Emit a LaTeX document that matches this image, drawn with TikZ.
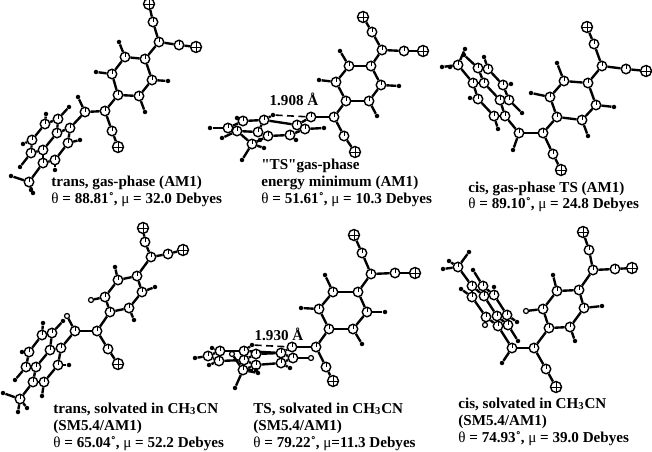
\documentclass[tikz,border=0pt]{standalone}
\usepackage{fontspec}
\setmainfont{Liberation Serif}
\usetikzlibrary{backgrounds}

\tikzset{
	natom/.style={draw, circle, fill=white, line width=0.8pt, inner sep=0pt, minimum size=0.22cm,
		path picture={\draw[line width=0.35pt] (path picture bounding box.west) -- (path picture bounding box.east)
			(path picture bounding box.north) -- (path picture bounding box.south);}},
	catom/.style={draw, circle, fill=white, line width=0.8pt, inner sep=0pt, minimum size=0.19cm,
		path picture={\draw[line width=0.45pt] (path picture bounding box.center) -- (path picture bounding box.east)
			(path picture bounding box.north) -- (path picture bounding box.south);
			\fill (path picture bounding box.center) rectangle (path picture bounding box.south east);}},
	hatom/.style={circle, fill=black, inner sep=0pt, minimum size=0.09cm},
	oatom/.style={draw, circle, fill=white, line width=0.7pt, inner sep=0pt, minimum size=0.1cm},
	bond/.style={line width=1.35pt},
	hbond/.style={line width=0.9pt, dash pattern=on 4pt off 2.5pt},
	caption/.style={anchor=base west, inner sep=0pt, font=\bfseries\fontsize{8.6}{10}\selectfont},
	dist/.style={anchor=base, inner sep=0pt, font=\bfseries\fontsize{8.6}{10}\selectfont}
}

\newcommand{\thetamu}[2]{{\mdseries θ} = #1˚, {\mdseries μ}#2}
\newcommand{\molatoms}[4]{
	\foreach \n/\x/\y in {#2} \node[natom] (#1\n) at (\x,\y) {};
	\foreach \n/\x/\y in {#3} \node[catom] (#1\n) at (\x,\y) {};
	\foreach \n/\x/\y in {#4} \node[hatom] (#1\n) at (\x,\y) {};
}
\def\corebonds{n1/c1,c1/c0,c0/c2,c2/n2,c0/r1,r1/r2,r2/r3,r3/r4,r4/r5,r5/r6,r6/r1,r2/h2,r3/h3,r5/h5,r6/h6,r4/v,v/w,v/c3,c3/n3,a/w}
\def\flatbonds{a/b,b/c,c/d,d/e,e/f,f/a,f/g,g/h,h/i,i/j,j/e,d/m,w/hw,b/hb,c/hc,g/hg,h/hh,i/hi,j/hj,m/m1,m/m2,m/m3}

\begin{document}
\begin{tikzpicture}[x=0.02cm,y=-0.02cm]
	\useasboundingbox (0,0) rectangle (652,452);

	% trans, gas-phase
	\molatoms{A}{n1/149/4,n2/196/47,n3/118/147}
	{c1/153/22,c0/159/42,c2/179/45,r1/145/59,r2/125/57,r3/112/74,r4/118/95,r5/139/96,r6/152/80,v/105/111,w/85/112,c3/112/131,
	a/70/128,b/68/143,c/55/160,d/43/163,e/43/150,f/57/133,g/58/119,h/45/124,i/32/140,j/31/153,m/29/182}
	{h2/119/42,h3/96/72,h5/145/112,h6/168/81,hw/78/97,hb/80/140,hc/55/170,hg/69/107,hh/46/114,hi/23/144,hj/20/167,m1/11/176,m2/33/193,m3/31/190}

	% "TS" gas-phase
	\molatoms{B}{n1/363/17,n2/423/51,n3/355/152}
	{c1/372/32,c0/382/50,c2/404/51,r1/371/66,r2/349/66,r3/336/82,r4/346/101,r5/369/101,r6/381/85,v/334/117,w/311/117,c3/344/136,
	a/297/125,b/305/129,c/290/135,d/268/136,e/258/132,f/264/120,g/243/121,h/228/128,i/237/131,m/252/144}
	{h2/340/51,h3/319/80,h5/377/116,h6/399/86,hb/324/128,hc/296/140,hf/273/115,hg/237/118,hh/210/128,hi/222/138,m1/242/160,m2/264/148,m3/260/140}

	% cis, gas-phase TS
	\molatoms{C}{n1/587/27,n2/646/71,n3/561/170}
	{c1/594/44,c0/602/66,c2/626/69,r1/588/83,r2/564/81,r3/550/97,r4/557/117,r5/582/120,r6/596/105,v/543/133,w/519/133,c3/553/154,
	a/505/116,b/494/116,c/478/99,d/473/83,e/484/83,f/500/100,g/509/100,h/503/85,i/488/69,j/478/68,m/458/65}
	{h2/557/63,h3/531/93,h5/588/136,h6/614/107,hw/513/150,hb/498/129,hc/470/98,hg/522/113,hh/511/84,hi/484/57,hj/464/55,m1/442/67,m2/465/49,m3/450/67}

	% trans, solvated
	\molatoms{D}{n1/143/228,n2/183/250,n3/118/364}
	{c1/145/242,c0/151/257,c2/168/254,r1/137/276,r2/118/280,r3/105/297,r4/110/312,r5/129/308,r6/142/292,v/97/331,w/75/331,c3/108/349,
	a/61/348,b/58/365,c/44/382,d/33/382,e/36/367,f/50/350,g/52/333,h/42/335,i/29/352,j/26/367,m/20/399}
	{h2/115/267,h5/134/320,h6/155/287,hb/69/365,hc/42/396,hg/63/321,hh/43/323,hi/22/352,hj/15/380,m1/3/393,m2/27/408,m3/18/412}
	\node[oatom] (Dh3) at (91,300) {};
	\node[oatom] (Dhw) at (67,316) {};

	% TS, solvated
	\molatoms{E}{n1/354/235,n2/415/273,n3/333/381}
	{c1/362/253,c0/371/274,c2/395/273,r1/358/292,r2/333/292,r3/319/309,r4/329/329,r5/353/329,r6/367/312,v/316/347,w/292/347,c3/326/367,
	a/281/353,b/293/358,c/281/363,d/256/365,x/256/354,e/244/360,f/244/351,g/220/351,h/208/356,i/219/361,m/243/370}
	{h2/325/275,h3/301/308,h5/362/344,h6/385/312,hc/290/368,hf/252/345,hg/212/348,hh/195/358,hi/209/365,m1/235/388,m2/258/373,m3/256/370}
	\node[oatom] (Ehb) at (311,358) {};
	\node[oatom] (Ehx) at (232,354) {};

	% cis, solvated
	\molatoms{F}{n1/583/232,n2/632/268,n3/556/387}
	{c1/589/250,c0/593/270,c2/615/269,r1/579/290,r2/557/291,r3/543/309,r4/549/328,r5/570/327,r6/584/308,v/534/348,w/512/348,c3/546/369,
	a/498/326,b/486/317,c/472/297,d/472/286,e/484/296,f/497/316,g/508/325,h/507/315,i/494/295,j/483/286,m/458/267}
	{h2/553/275,h5/575/341,h6/602/306,hw/502/363,hc/461/289,hg/518/341,hh/517/322,hi/494/287,hj/473/270,m1/443/269,m2/469/252,m3/449/261}
	\node[oatom] (Fh3) at (526,311) {};
	\node[oatom] (Fhb) at (485,325) {};

	\begin{scope}[on background layer]
		\foreach \m in {A,B,C,D,E,F}
			\foreach \p/\q in \corebonds \draw[bond] (\m\p) -- (\m\q);
		\foreach \m in {A,C,D,F}
			\foreach \p/\q in \flatbonds \draw[bond] (\m\p) -- (\m\q);
		\foreach \p/\q in {a/b,b/c,c/d,d/e,e/f,f/a,f/g,g/h,h/i,i/e,i/m,m/d,b/hb,c/hc,f/hf,g/hg,h/hh,i/hi,m/m1,m/m2,m/m3}
			\draw[bond] (B\p) -- (B\q);
		\foreach \p/\q in {a/b,b/c,c/d,d/e,e/f,f/a,x/a,x/e,f/g,g/h,h/i,i/e,m/d,m/hx,b/hb,c/hc,f/hf,g/hg,h/hh,i/hi,m/m1,m/m2,m/m3}
			\draw[bond] (E\p) -- (E\q);
	\end{scope}
	\draw[hbond] (Bhf) -- (Bw);
	\draw[hbond] (Ehf) -- (Ew);

	\node[dist] (dist1) at (294,106) {1.908 Å};
	\node[dist] (dist2) at (279,340) {1.930 Å};

	\node[caption] (cap1a) at (51,187) {trans, gas-phase (AM1)};
	\node[caption] (cap1b) at (51,204) {\thetamu{88.81}{ = 32.0 Debyes}};
	\node[caption] (cap2a) at (261,170) {\textquotedbl TS\textquotedbl gas-phase};
	\node[caption] (cap2b) at (261,187) {energy minimum (AM1)};
	\node[caption] (cap2c) at (261,204) {\thetamu{51.61}{ = 10.3 Debyes}};
	\node[caption] (cap3a) at (468,193) {cis, gas-phase TS (AM1)};
	\node[caption] (cap3b) at (468,209) {\thetamu{89.10}{ = 24.8 Debyes}};
	\node[caption] (cap4a) at (53,413) {trans, solvated in CH\textsubscript{3}CN};
	\node[caption] (cap4b) at (53,430) {(SM5.4/AM1)};
	\node[caption] (cap4c) at (53,447) {\thetamu{65.04}{ = 52.2 Debyes}};
	\node[caption] (cap5a) at (253,413) {TS, solvated in CH\textsubscript{3}CN};
	\node[caption] (cap5b) at (253,430) {(SM5.4/AM1)};
	\node[caption] (cap5c) at (253,447) {\thetamu{79.22}{=11.3 Debyes}};
	\node[caption] (cap6a) at (458,408) {cis, solvated in CH\textsubscript{3}CN};
	\node[caption] (cap6b) at (458,425) {(SM5.4/AM1)};
	\node[caption] (cap6c) at (458,442) {\thetamu{74.93}{ = 39.0 Debyes}};
\end{tikzpicture}
\end{document}
